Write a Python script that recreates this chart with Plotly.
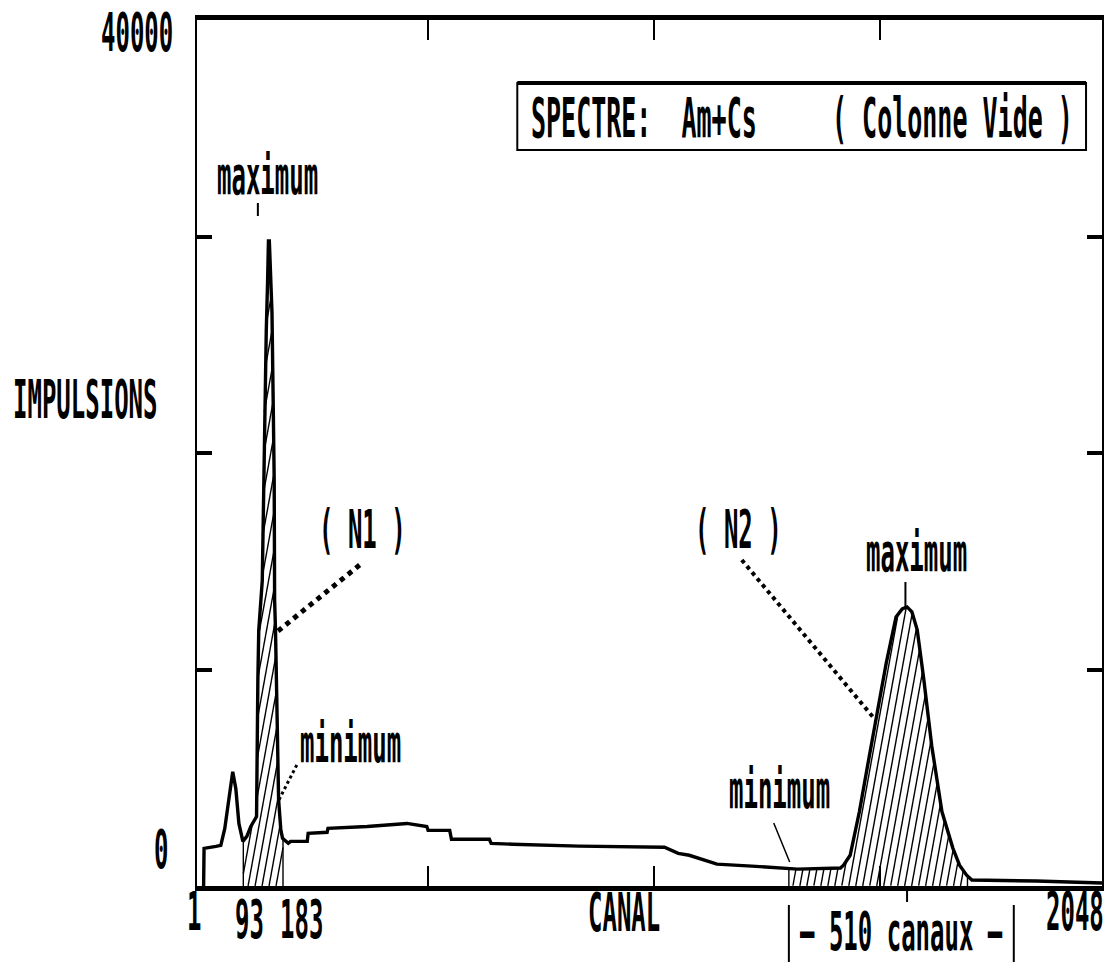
import numpy as np
import plotly.graph_objects as go

# Spectre Am+Cs (colonne vide) : impulsions par canal
canal = [3, 4, 31, 42, 51, 60, 69, 76, 83, 92, 101, 110, 118, 123,
         126, 128, 136, 138, 139, 141, 145, 148, 150, 152, 156, 158,
         161, 163, 164, 166, 170, 173, 178, 182, 195, 200, 238, 240,
         283, 285, 374, 420, 464, 509, 512, 561, 565, 651, 655, 703,
         854, 1048, 1079, 1104, 1127, 1167, 1246, 1350, 1447, 1454,
         1469, 1490, 1510, 1530, 1551, 1573, 1587, 1598, 1609, 1621,
         1636, 1654, 1677, 1702, 1717, 1733, 1745, 1891, 2040]
impulsions = [0, 1740, 1830, 1880, 2660, 4040, 5280, 4500, 2890, 2060,
              2290, 2750, 3000, 3210, 9500, 11800, 14100, 16700, 19600,
              22700, 25600, 27900, 29800, 29800, 27900, 26500, 22000,
              18800, 13200, 11800, 7400, 4000, 2600, 2200, 1970, 2060,
              2060, 2430, 2480, 2660, 2750, 2820, 2890, 2750, 2570, 2570,
              2160, 2160, 1970, 1930, 1840, 1790, 1510, 1420, 1280, 1010,
              920, 780, 830, 960, 1420, 3440, 5730, 8030, 10320, 12430,
              12800, 12890, 12660, 11830, 9540, 6470, 3440, 1740, 960,
              500, 280, 230, 140]

# zones integrees (pics N1 et N2)
zone_n1 = (93, 183)
zone_n2 = (1330, 1735)
largeur_n2 = 510
bornes_n2 = (1330, 1330 + largeur_n2)
canal_max_n2 = 1598

X_RANGE = [-12, 2040]
Y_RANGE = [0, 40000]

W, H = 1113, 964
L, R, T, B = 197, 1104, 20, 886


def px(x):
    return (x - L) / (R - L)


def py(y):
    return (B - y) / (B - T)


def hachures(x0, x1, pas_px=7.0, pente_px=5.5):
    """Hachures obliques sous la courbe entre x0 et x1."""
    ch_par_px = (X_RANGE[1] - X_RANGE[0]) / (R - L)
    cps_par_px = (Y_RANGE[1] - Y_RANGE[0]) / (B - T)
    pente = pente_px * cps_par_px / ch_par_px
    pas = pas_px * ch_par_px
    xs = np.linspace(x0, x1, 3000)
    ys = np.interp(xs, canal, impulsions)
    hx, hy = [], []
    depart = x0 - ys.max() / pente
    c = x1
    while c > depart:
        yl = pente * (xs - c)
        ok = np.where((yl >= 0) & (yl <= ys))[0]
        if len(ok):
            coupures = np.where(np.diff(ok) > 1)[0]
            for run in np.split(ok, coupures + 1):
                hx += [xs[run[0]], xs[run[-1]], None]
                hy += [yl[run[0]], yl[run[-1]], None]
        c -= pas
    for xb in (x0, x1):
        hx += [xb, xb, None]
        hy += [0, float(np.interp(xb, canal, impulsions)), None]
    return hx, hy


fig = go.Figure()

for a, b in (zone_n1, zone_n2):
    hx, hy = hachures(a, b)
    fig.add_trace(go.Scatter(x=hx, y=hy, mode="lines",
                             line=dict(color="black", width=1.4),
                             hoverinfo="skip"))

fig.add_trace(go.Scatter(x=canal, y=impulsions, mode="lines",
                         line=dict(color="black", width=3.4),
                         hoverinfo="skip"))

FONT = "DejaVu Sans Mono"


def texte(x, y, t, size=24, xanchor="center"):
    fig.add_annotation(x=px(x), y=py(y), xref="paper", yref="paper",
                       text=t, showarrow=False, xanchor=xanchor,
                       yanchor="middle",
                       font=dict(family=FONT, size=size, color="black",
                                 weight="bold"))


nb = "\u00a0"
texte(175, 33, "40000", xanchor="right")
texte(161, 850, "0")
texte(85, 400, "IMPULSIONS")
texte(194, 912, "1")
texte(250, 920, "93")
texte(302, 920, "183")
texte(625, 913, "CANAL")
texte(1077, 912, "2048")
texte(268, 176, "maximum")
texte(363, 530, "(" + nb + "N1" + nb + ")")
texte(351, 744, "minimum")
texte(740, 530, "(" + nb + "N2" + nb + ")")
texte(918, 553, "maximum")
texte(781, 790, "minimum")
texte(803, 117, "SPECTRE:" + nb * 2 + "Am+Cs" + nb * 5 + "(" + nb + "Colonne"
      + nb + "Vide" + nb + ")", size=25)
texte(903, 932, "\u2014" + nb + str(largeur_n2) + nb + "canaux" + nb + "\u2014")

shapes = []


def trait(x0, y0, x1, y1, width=2, dash="solid"):
    shapes.append(dict(type="line", xref="paper", yref="paper",
                       x0=px(x0), y0=py(y0), x1=px(x1), y1=py(y1),
                       line=dict(color="black", width=width, dash=dash)))


# cadre du titre
shapes.append(dict(type="rect", xref="paper", yref="paper",
                   x0=px(518), x1=px(1088), y0=py(150), y1=py(83),
                   line=dict(color="black", width=2)))
trait(518, 83, 1088, 83, width=4)

# renvois
trait(360, 565, 277, 632, width=5, dash="dot")
trait(297, 765, 278, 802, width=3, dash="dot")
trait(743, 560, 877, 720, width=4, dash="dot")
trait(258, 203, 258, 216, width=2)
trait(907, 582, 907, 609, width=2)
trait(775, 823, 791, 862, width=1.5)

# bornes de la zone de 510 canaux
for c in bornes_n2:
    shapes.append(dict(type="line", xref="x", yref="paper",
                       x0=c, x1=c, y0=py(905), y1=py(962),
                       line=dict(color="black", width=2)))
# repere du maximum sous l'axe
shapes.append(dict(type="line", xref="x", yref="paper",
                   x0=canal_max_n2, x1=canal_max_n2, y0=py(888), y1=py(902),
                   line=dict(color="black", width=2)))

fig.update_layout(
    width=W, height=H,
    margin=dict(l=L, r=W - R, t=T, b=H - B, pad=0),
    paper_bgcolor="white", plot_bgcolor="white",
    showlegend=False,
    shapes=shapes,
    xaxis=dict(range=X_RANGE, showgrid=False, zeroline=False,
               showline=True, linecolor="black", linewidth=5,
               mirror="ticks", ticks="inside", ticklen=20, tickwidth=2,
               tickcolor="black", tickvals=[512, 1024, 1536],
               showticklabels=False),
    yaxis=dict(range=Y_RANGE, showgrid=False, zeroline=False,
               showline=True, linecolor="black", linewidth=2,
               mirror="ticks", ticks="inside", ticklen=15, tickwidth=4,
               tickcolor="black", tickvals=[10000, 20000, 30000],
               showticklabels=False),
)

etirement = """
var s = document.createElement('style');
s.textContent = '.annotation-text{transform-box:fill-box;' +
  'transform-origin:50% 50%;transform:scaleY(2.2);}';
document.head.appendChild(s);
"""

fig.write_html("out.html", post_script=etirement)
